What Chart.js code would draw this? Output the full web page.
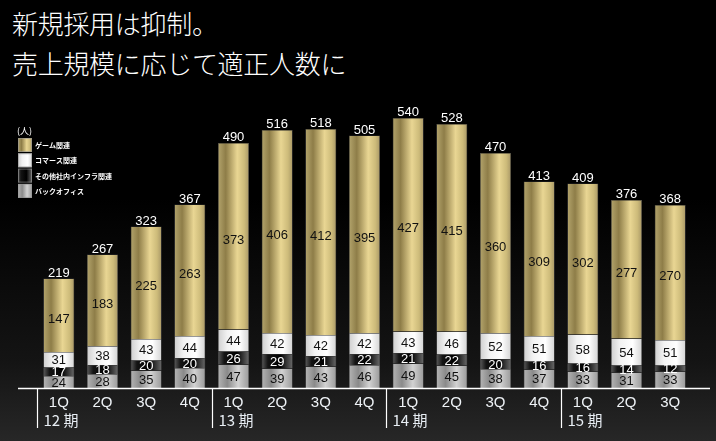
<!DOCTYPE html>
<html>
<head>
<meta charset="utf-8">
<script src="https://cdn.jsdelivr.net/npm/chart.js@4.4.1/dist/chart.umd.min.js"></script>
<style>
  html, body { margin: 0; padding: 0; }
  body {
    width: 716px; height: 441px; overflow: hidden; position: relative;
    background: linear-gradient(to bottom, #000 0%, #000 45%, #141414 82%, #272727 100%);
  }
  #title {
    position: absolute; left: 12px; top: 3px;
    font-family: "Noto Sans CJK JP", sans-serif; font-size: 26px; font-weight: 300; line-height: 40px;
    color: #fff; letter-spacing: -0.3px;
  }
  #chart { position: absolute; left: 0; top: 0; }
</style>
</head>
<body>
<div id="title">新規採用は抑制。<br>売上規模に応じて適正人数に</div>
<canvas id="chart" width="716" height="441"></canvas>
<script>
const quarters = ['1Q', '2Q', '3Q', '4Q', '1Q', '2Q', '3Q', '4Q', '1Q', '2Q', '3Q', '4Q', '1Q', '2Q', '3Q'];
const periods = [
    { label: '12 期', start: 0 },
    { label: '13 期', start: 4 },
    { label: '14 期', start: 8 },
    { label: '15 期', start: 12 }
];
const seriesNames = ['バックオフィス', 'その他社内インフラ関連', 'コマース関連', 'ゲーム関連'];
const backOffice = [24, 28, 35, 40, 47, 39, 43, 46, 49, 45, 38, 37, 33, 31, 33];
const otherInfra = [17, 18, 20, 20, 26, 29, 21, 22, 21, 22, 20, 16, 16, 14, 12];
const commerce = [31, 38, 43, 44, 44, 42, 42, 42, 43, 46, 52, 51, 58, 54, 51];
const game = [147, 183, 225, 263, 373, 406, 412, 395, 427, 415, 360, 309, 302, 277, 270];
const totals = [219, 267, 323, 367, 490, 516, 518, 505, 540, 528, 470, 413, 409, 376, 368];
const unitLabel = '(人)';

const BAR_PCT = 0.71;

// horizontal gradient stops per series (cylinder look)
const gradStops = [
    [[0, '#b4b4b4'], [0.3, '#8a8a8a'], [0.65, '#d2d2d2'], [1, '#9a9a9a']],
    [[0, '#5a5a5a'], [0.2, '#141414'], [0.6, '#000000'], [1, '#6a6a6a']],
    [[0, '#cfcfcf'], [0.3, '#f2f2f2'], [0.7, '#ffffff'], [1, '#d4d4d4']],
    [[0, '#b3a46c'], [0.25, '#8e7d48'], [0.62, '#e9d693'], [0.85, '#cdbb7a'], [1, '#a99867']]
];
const labelColors = ['#111', '#fff', '#111', '#111'];

function makeGrad(ctx, x0, x1, stops) {
    const g = ctx.createLinearGradient(x0, 0, x1, 0);
    stops.forEach(s => g.addColorStop(s[0], s[1]));
    return g;
}

function barFill(si) {
    return function (c) {
        const chart = c.chart;
        const xs = chart.scales.x;
        if (!xs || !chart.chartArea) return gradStops[si][1][1];
        const cx = xs.getPixelForValue(c.dataIndex);
        const w = xs.width / quarters.length * BAR_PCT;
        return makeGrad(chart.ctx, cx - w / 2, cx + w / 2, gradStops[si]);
    };
}

const seriesData = [backOffice, otherInfra, commerce, game];

const decorPlugin = {
    id: 'decor',
    afterDatasetsDraw(chart) {
        const ctx = chart.ctx;
        const xs = chart.scales.x;
        const area = chart.chartArea;
        const step = xs.width / quarters.length;
        ctx.save();

        // segment labels
        ctx.font = '13px "Liberation Sans", Arial, sans-serif';
        ctx.textAlign = 'center';
        ctx.textBaseline = 'middle';
        chart.data.datasets.forEach((ds, di) => {
            const meta = chart.getDatasetMeta(di);
            meta.data.forEach((el, i) => {
                let y = (el.y + el.base) / 2;
                if (di === 3) y += 3;
                ctx.fillStyle = labelColors[di];
                ctx.fillText(String(ds.data[i]), el.x, y + 1);
            });
        });

        // totals above bars
        const top = chart.getDatasetMeta(3);
        ctx.fillStyle = '#fff';
        ctx.textBaseline = 'alphabetic';
        top.data.forEach((el, i) => {
            ctx.fillText(String(totals[i]), el.x, el.y - 2);
        });

        // baseline
        ctx.strokeStyle = '#fff';
        ctx.lineWidth = 1.5;
        ctx.beginPath();
        ctx.moveTo(18, area.bottom + 0.5);
        ctx.lineTo(710, area.bottom + 0.5);
        ctx.stroke();

        // period separators and labels
        ctx.lineWidth = 1.2;
        periods.forEach(p => {
            const sx = Math.round(xs.getPixelForValue(p.start) - step / 2) + 0.5;
            ctx.beginPath();
            ctx.moveTo(sx, area.bottom);
            ctx.lineTo(sx, area.bottom + 40);
            ctx.stroke();
            ctx.font = '15px "Noto Sans CJK JP", sans-serif';
            ctx.textAlign = 'left';
            ctx.textBaseline = 'middle';
            ctx.fillStyle = '#e8eef4';
            ctx.fillText(p.label, sx + 6, area.bottom + 32);
        });

        // quarter labels
        ctx.font = '15px "Liberation Sans", Arial, sans-serif';
        ctx.textAlign = 'center';
        ctx.textBaseline = 'middle';
        ctx.fillStyle = '#eef2f6';
        quarters.forEach((q, i) => {
            ctx.fillText(q, xs.getPixelForValue(i), area.bottom + 15);
        });

        // legend (top-left)
        ctx.textAlign = 'left';
        ctx.font = '9px "Noto Sans CJK JP", sans-serif';
        ctx.fillStyle = '#fff';
        ctx.fillText(unitLabel, 17, 131);
        ctx.font = 'bold 7px "Noto Sans CJK JP", sans-serif';
        const order = [3, 2, 1, 0];
        order.forEach((si, k) => {
            const y0 = 138 + k * 15.3;
            ctx.fillStyle = makeGrad(ctx, 18, 32, gradStops[si]);
            ctx.fillRect(18, y0, 14, 14);
            ctx.strokeStyle = 'rgba(150,150,150,0.6)';
            ctx.lineWidth = 1;
            ctx.strokeRect(18.5, y0 + 0.5, 13, 13);
            ctx.fillStyle = '#fff';
            ctx.fillText(seriesNames[si], 35, y0 + 7.5);
        });

        ctx.restore();
    }
};

new Chart(document.getElementById('chart'), {
    type: 'bar',
    data: {
        labels: quarters,
        datasets: seriesData.map((d, si) => ({
            label: seriesNames[si],
            data: d,
            backgroundColor: barFill(si),
            borderColor: 'rgba(140,140,140,0.55)',
            borderWidth: 0.6,
            barPercentage: BAR_PCT,
            categoryPercentage: 1
        }))
    },
    options: {
        responsive: false,
        animation: false,
        devicePixelRatio: 1,
        layout: { padding: { left: 37, right: 24, top: 100, bottom: 53 } },
        plugins: {
            legend: { display: false },
            tooltip: { enabled: false }
        },
        scales: {
            x: { stacked: true, display: false },
            y: { stacked: true, display: false, min: 0, max: 576 }
        }
    },
    plugins: [decorPlugin]
});
</script>
</body>
</html>
